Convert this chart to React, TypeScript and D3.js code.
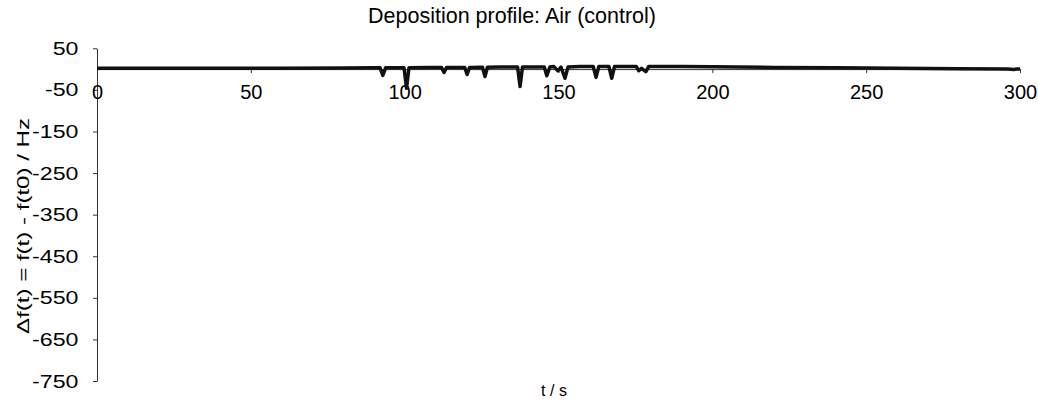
import React, { useRef, useEffect } from 'react';
import * as d3 from 'd3';

// time in seconds and frequency shift in Hz
const timeS = [
    0, 20, 40, 60, 80, 90,
    92, 92.9, 93.8,
    99.8, 100.6, 101.4,
    108, 112, 112.8, 113.6,
    119.5, 120.3, 121.1,
    125.3, 126.1, 126.9,
    131, 136.7, 137.5, 138.3,
    142, 145.4, 146.2, 147.2, 148.5, 149.8, 150.8, 152.1, 153.1,
    157, 161.3, 162.2, 163.1,
    166.4, 167.3, 168.2,
    172, 175.3, 176.1, 177, 178.4, 179.3,
    185, 190, 200, 220, 240, 260, 280, 296, 298, 299, 300
];
const deltaF = [
    2, 2, 2, 2, 2.5, 3,
    3, -15, 3,
    3, -46, 3,
    4, 4, -8, 4,
    4, -13, 4,
    4.5, -18, 4.5,
    5, 5, -42, 5,
    5, 5, -16, 5, 6, -4, 5, -22, 5,
    6, 6, -20, 6,
    6, -22, 6,
    6, 6, -4, 2, -6, 6,
    6.5, 6, 5.5, 4, 3, 2, 1, 0.5, -1, 0.5, 0
];
const xTicks = [0, 50, 100, 150, 200, 250, 300];
const yTicks = [50, -50, -150, -250, -350, -450, -550, -650, -750];

const FONT = '"Liberation Sans", Arial, sans-serif';

const DepositionChart = () => {
    const xAxisRef = useRef<SVGGElement>(null);
    const yAxisRef = useRef<SVGGElement>(null);

    const width = 1038;
    const height = 403;
    const margin = { left: 97, right: 18, top: 48.3, bottom: 22 };

    const x = d3.scaleLinear().domain([0, 300]).range([margin.left, width - margin.right]);
    const y = d3.scaleLinear().domain([50, -750]).range([margin.top, 381]);

    const points: [number, number][] = timeS.map((t, i) => [t, deltaF[i]]);
    const line = d3.line<[number, number]>()
        .x(d => x(d[0]))
        .y(d => y(d[1]));

    useEffect(() => {
        const xAxis = d3.axisBottom(x)
            .tickValues(xTicks)
            .tickSize(4)
            .tickSizeOuter(0)
            .tickPadding(12)
            .tickFormat(d => String(d));
        const gx = d3.select(xAxisRef.current!);
        gx.call(xAxis);
        gx.attr('font-size', 20).attr('font-family', FONT);
        gx.selectAll('line').attr('stroke', '#333');
        gx.select('.domain').attr('stroke', '#333');
        gx.selectAll('text').attr('fill', '#000');

        const yAxis = d3.axisLeft(y)
            .tickValues(yTicks)
            .tickSize(4)
            .tickSizeOuter(0)
            .tickFormat(d => String(d));
        const gy = d3.select(yAxisRef.current!);
        gy.call(yAxis);
        gy.attr('font-size', 19).attr('font-family', FONT);
        gy.selectAll('line').attr('stroke', '#333');
        gy.select('.domain').attr('stroke', '#333');
        // the y labels in the source are drawn wider than the x ones
        gy.selectAll('text')
            .attr('fill', '#000')
            .attr('x', 0)
            .attr('transform', 'translate(-18.5,0) scale(1.22,1)');
        // eslint-disable-next-line
    }, []);

    return (
        <svg width={width} height={height} style={{ display: 'block', position: 'absolute', left: 0, top: 0 }}>
            <rect width={width} height={height} fill="#fff" />
            <text x={512} y={23} textAnchor="middle" fontFamily={FONT} fontSize={21.5}>
                Deposition profile: Air (control)
            </text>
            <g ref={yAxisRef} transform={`translate(${margin.left},0)`} />
            <g ref={xAxisRef} transform={`translate(0,${y(0)})`} />
            <path d={line(points) || ''} fill="none" stroke="#111" strokeWidth={3.5} strokeLinejoin="round" />
            <text x={554} y={396} textAnchor="middle" fontFamily={FONT} fontSize={16}>t / s</text>
            <text transform={`translate(29,226) rotate(-90)`} textAnchor="middle" fontFamily={FONT} fontSize={16}
                textLength={216} lengthAdjust="spacingAndGlyphs">
                Δf(t) = f(t) - f(t0) / Hz
            </text>
        </svg>
    );
};

export default function App() {
    return <DepositionChart />;
}
